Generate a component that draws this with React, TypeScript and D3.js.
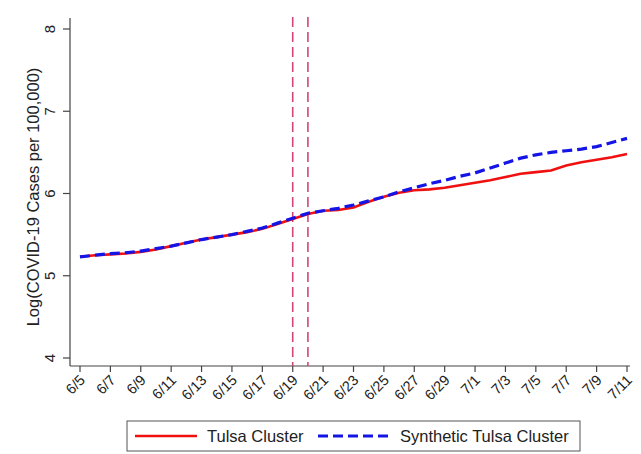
import * as d3 from "d3";
import React, {useEffect, useRef} from "react";

// days since 6/5
const dates = ["6/5", "6/6", "6/7", "6/8", "6/9", "6/10", "6/11", "6/12", "6/13", "6/14", "6/15", "6/16",
    "6/17", "6/18", "6/19", "6/20", "6/21", "6/22", "6/23", "6/24", "6/25", "6/26", "6/27", "6/28", "6/29",
    "6/30", "7/1", "7/2", "7/3", "7/4", "7/5", "7/6", "7/7", "7/8", "7/9", "7/10", "7/11"];

const tulsa = [5.23, 5.25, 5.26, 5.27, 5.29, 5.32, 5.36, 5.40, 5.44, 5.47, 5.50, 5.53,
    5.57, 5.63, 5.69, 5.75, 5.79, 5.80, 5.83, 5.90, 5.96, 6.01, 6.04, 6.05, 6.07,
    6.10, 6.13, 6.16, 6.20, 6.24, 6.26, 6.28, 6.34, 6.38, 6.41, 6.44, 6.48];

const synthetic = [5.23, 5.25, 5.27, 5.28, 5.30, 5.33, 5.36, 5.40, 5.44, 5.47, 5.50, 5.54,
    5.58, 5.64, 5.70, 5.76, 5.79, 5.82, 5.86, 5.91, 5.96, 6.02, 6.07, 6.12, 6.16,
    6.21, 6.25, 6.31, 6.37, 6.43, 6.47, 6.50, 6.52, 6.54, 6.57, 6.62, 6.67];

const tickLabels = ["6/5", "6/7", "6/9", "6/11", "6/13", "6/15", "6/17", "6/19", "6/21", "6/23", "6/25",
    "6/27", "6/29", "7/1", "7/3", "7/5", "7/7", "7/9", "7/11"];
const yTicks = [4, 5, 6, 7, 8];
const markers = ["6/19", "6/20"];

const App = () => {
    const ref = useRef(null);

    useEffect(() => {
        const svg = d3.select(ref.current);
        svg.selectAll("*").remove();
        const font = "Arial, 'Liberation Sans', sans-serif";
        const axisColor = "#444";

        const x = d3.scaleLinear().domain([0, dates.length - 1]).range([80, 627]);
        const y = d3.scaleLinear().domain([4, 8]).range([358, 29]);
        const plotBottom = 366;

        // y axis
        svg.append("line").attr("x1", 70).attr("x2", 70).attr("y1", 18).attr("y2", plotBottom)
            .attr("stroke", axisColor).attr("stroke-width", 1.2);
        yTicks.forEach(t => {
            svg.append("line").attr("x1", 63).attr("x2", 70).attr("y1", y(t)).attr("y2", y(t))
                .attr("stroke", axisColor).attr("stroke-width", 1.2);
            svg.append("text").attr("transform", `translate(55,${y(t)}) rotate(-90)`)
                .attr("text-anchor", "middle").attr("font-family", font).attr("font-size", 15)
                .attr("fill", "#222").text(t);
        });
        svg.append("text").attr("transform", `translate(39,197) rotate(-90)`)
            .attr("text-anchor", "middle").attr("font-family", font).attr("font-size", 16.5)
            .attr("fill", "#222").text("Log(COVID-19 Cases per 100,000)");

        // x axis
        svg.append("line").attr("x1", 70).attr("x2", 630).attr("y1", plotBottom).attr("y2", plotBottom)
            .attr("stroke", axisColor).attr("stroke-width", 1.2);
        tickLabels.forEach(l => {
            const tx = x(dates.indexOf(l));
            svg.append("line").attr("x1", tx).attr("x2", tx).attr("y1", plotBottom).attr("y2", plotBottom + 6)
                .attr("stroke", axisColor).attr("stroke-width", 1.2);
            svg.append("text").attr("transform", `translate(${tx + 6},${plotBottom + 15}) rotate(-45)`)
                .attr("text-anchor", "end").attr("font-family", font).attr("font-size", 14.5)
                .attr("fill", "#222").text(l);
        });

        // treatment markers
        markers.forEach(m => {
            const mx = x(dates.indexOf(m));
            svg.append("line").attr("x1", mx).attr("x2", mx).attr("y1", 17).attr("y2", plotBottom)
                .attr("stroke", "#d2457a").attr("stroke-width", 1.6).attr("stroke-dasharray", "10,5");
        });

        const line = d3.line().x((d, i) => x(i)).y(d => y(d));

        svg.append("path").datum(tulsa).attr("d", line).attr("fill", "none")
            .attr("stroke", "#f01010").attr("stroke-width", 2.6);
        svg.append("path").datum(synthetic).attr("d", line).attr("fill", "none")
            .attr("stroke", "#1414e6").attr("stroke-width", 3.2).attr("stroke-dasharray", "10,5");

        // legend
        svg.append("rect").attr("x", 127).attr("y", 421).attr("width", 453).attr("height", 30)
            .attr("fill", "white").attr("stroke", "#555").attr("stroke-width", 1);
        svg.append("line").attr("x1", 135).attr("x2", 197).attr("y1", 436).attr("y2", 436)
            .attr("stroke", "#f01010").attr("stroke-width", 2.6);
        svg.append("text").attr("x", 207).attr("y", 442).attr("font-family", font).attr("font-size", 16.5)
            .attr("fill", "#222").text("Tulsa Cluster");
        svg.append("line").attr("x1", 318).attr("x2", 392).attr("y1", 436).attr("y2", 436)
            .attr("stroke", "#1414e6").attr("stroke-width", 3.2).attr("stroke-dasharray", "10,5");
        svg.append("text").attr("x", 400).attr("y", 442).attr("font-family", font).attr("font-size", 16.5)
            .attr("fill", "#222").text("Synthetic Tulsa Cluster");
    }, []);

    return (
        <svg ref={ref} width={641} height={454}
             style={{position: "absolute", left: 0, top: 0, background: "white"}}/>
    );
};

export default App;
